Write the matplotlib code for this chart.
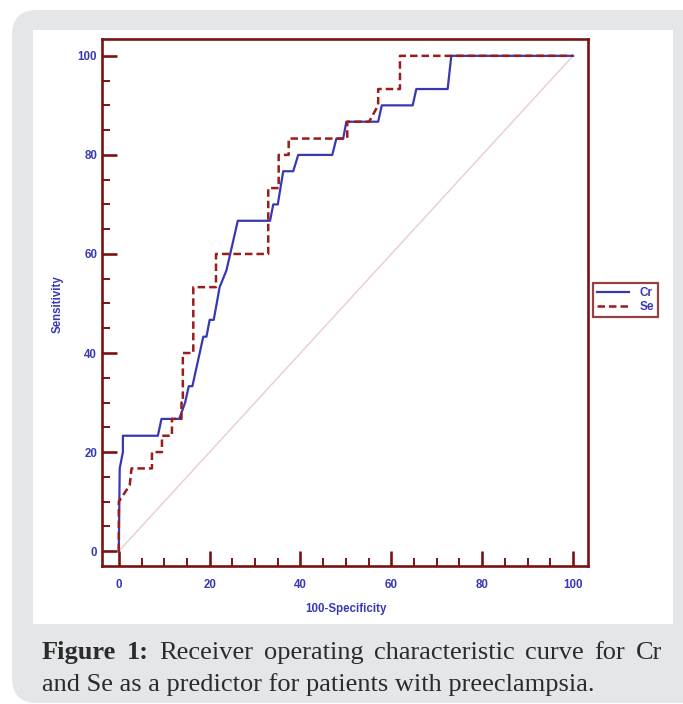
"""
ROC curves for Cr and Se as predictors of preeclampsia.
"""
import matplotlib
matplotlib.use("Agg")
import matplotlib.pyplot as plt
from matplotlib.patches import FancyBboxPatch, Rectangle
from matplotlib.ticker import MultipleLocator

# Curve points: (100-specificity, sensitivity)
cr_fpr = [0, 0.2, 0.9, 0.9, 8.6, 9.4, 13.3, 14.6, 15.4, 16.2,
          18.6, 19.3, 20.0, 20.9, 22.2, 23.7, 26.2, 33.3, 34.0, 35.0,
          36.2, 38.4, 39.5, 47.0, 47.9, 49.4, 50.1, 57.1, 57.9, 64.7,
          65.5, 72.4, 73.2, 100]
cr_sens = [0, 16.7, 20.0, 23.3, 23.3, 26.7, 26.7, 30.0, 33.3, 33.3,
           43.3, 43.3, 46.7, 46.7, 53.3, 56.7, 66.7, 66.7, 70.0, 70.0,
           76.7, 76.7, 80.0, 80.0, 83.3, 83.3, 86.7, 86.7, 90.0, 90.0,
           93.3, 93.3, 100, 100]

se_fpr = [0, 0, 2.4, 2.8, 7.3, 7.3, 9.5, 9.5, 11.7, 11.7,
          13.8, 13.8, 14.1, 14.1, 16.4, 16.4, 21.4, 21.4, 32.9, 32.9,
          35.2, 35.2, 37.4, 37.4, 50.3, 50.3, 55.1, 57.1, 57.1, 61.9,
          61.9, 100]
se_sens = [0, 10.0, 13.3, 16.7, 16.7, 20.0, 20.0, 23.3, 23.3, 26.7,
           26.7, 30.0, 30.0, 40.0, 40.0, 53.3, 53.3, 60.0, 60.0, 73.3,
           73.3, 80.0, 80.0, 83.3, 83.3, 86.7, 86.7, 90.0, 93.3, 93.3,
           100, 100]

diag = [0, 100]
ticks = [0, 20, 40, 60, 80, 100]

caption_line1 = [("Figure", "bold"), ("1:", "bold"), ("Receiver", "normal"),
                 ("operating", "normal"), ("characteristic", "normal"),
                 ("curve", "normal"), ("for", "normal"), ("Cr", "normal")]
caption_line2 = "and Se as a predictor for patients with preeclampsia."

# Colours
DARK_RED = "#7c1214"
BLUE = "#3838b4"
GREY_BG = "#e4e6e8"
W, H = 683, 704

fig = plt.figure(figsize=(W / 100, H / 100), dpi=100)
fig.patch.set_facecolor("white")


def px(x, y, w, h):
    # top-left pixel box -> inches from bottom-left
    return x / 100, (H - y - h) / 100, w / 100, h / 100


# Grey rounded card and white inner panel (behind the axes)
gx, gy, gw, gh = px(12, 10, 700, 693)
fig.patches.append(FancyBboxPatch((gx, gy), gw, gh,
                                  boxstyle="round,pad=0,rounding_size=0.25",
                                  transform=fig.dpi_scale_trans,
                                  facecolor=GREY_BG, edgecolor="none", zorder=-3))
wx, wy, ww, wh = px(33, 30, 640, 594)
fig.patches.append(Rectangle((wx, wy), ww, wh, transform=fig.dpi_scale_trans,
                             facecolor="white", edgecolor="none", zorder=-2))

ax = fig.add_axes([102 / W, 1 - 566 / H, 486 / W, 527 / H])
ax.set_facecolor("white")

ax.plot(diag, diag, color="#ecd0d0", lw=1.1, zorder=1)
ax.plot(cr_fpr, cr_sens, color=BLUE, lw=1.6, label="Cr", zorder=2)
ax.plot(se_fpr, se_sens, color="#9a1c1c", lw=1.8, ls=(0, (3.0, 1.6)),
        label="Se", zorder=3)

ax.set_xlim(-3.7, 103.3)
ax.set_ylim(-3.0, 103.4)
ax.set_xticks(ticks)
ax.set_yticks(ticks)
ax.xaxis.set_minor_locator(MultipleLocator(5))
ax.yaxis.set_minor_locator(MultipleLocator(5))

for s in ax.spines.values():
    s.set_color(DARK_RED)
    s.set_linewidth(1.9)

ax.tick_params(which="major", direction="in", length=11, width=1.9,
               color=DARK_RED, labelcolor=BLUE, labelsize=8.3)
ax.tick_params(which="minor", direction="in", length=5.5, width=1.4,
               color=DARK_RED)
ax.tick_params(axis="x", which="major", pad=9)
ax.tick_params(axis="y", which="major", pad=3.5)
for lab in ax.get_xticklabels() + ax.get_yticklabels():
    lab.set_fontweight("bold")
    lab.set_family("Liberation Sans")

ax.set_xlabel("100-Specificity", color=BLUE, fontsize=8.3, fontweight="bold",
              family="Liberation Sans")
ax.set_ylabel("Sensitivity", color=BLUE, fontsize=8.3, fontweight="bold",
              family="Liberation Sans")
ax.xaxis.set_label_coords(0.502, -0.07)
ax.yaxis.set_label_coords(-0.078, 0.497)

leg = fig.legend(loc="upper left", bbox_to_anchor=(593 / W, 1 - 283 / H),
                 frameon=True, fancybox=False, edgecolor=DARK_RED,
                 prop={"weight": "bold", "family": "Liberation Sans", "size": 8.5},
                 labelcolor=BLUE, handlelength=2.7, handletextpad=0.9,
                 borderpad=0.35, labelspacing=0.15, borderaxespad=0)
leg.get_frame().set_linewidth(1.6)

# Caption: first line justified, second line left aligned
cap_font = dict(family="Liberation Serif", size=19, color="#2b2b2b")
y1 = 1 - 659 / H
y2 = 1 - 691 / H
words = [fig.text(0, y1, w, fontweight=wt, va="baseline", **cap_font)
         for w, wt in caption_line1]
fig.text(42 / W, y2, caption_line2, va="baseline", **cap_font)

fig.canvas.draw()
r = fig.canvas.get_renderer()
widths = [t.get_window_extent(r).width for t in words]
x0, x1 = 42, 662
gap = (x1 - x0 - sum(widths)) / (len(words) - 1)
x = x0
for t, w in zip(words, widths):
    t.set_x(x / W)
    x += w + gap

fig.savefig("out.png", dpi=100)
